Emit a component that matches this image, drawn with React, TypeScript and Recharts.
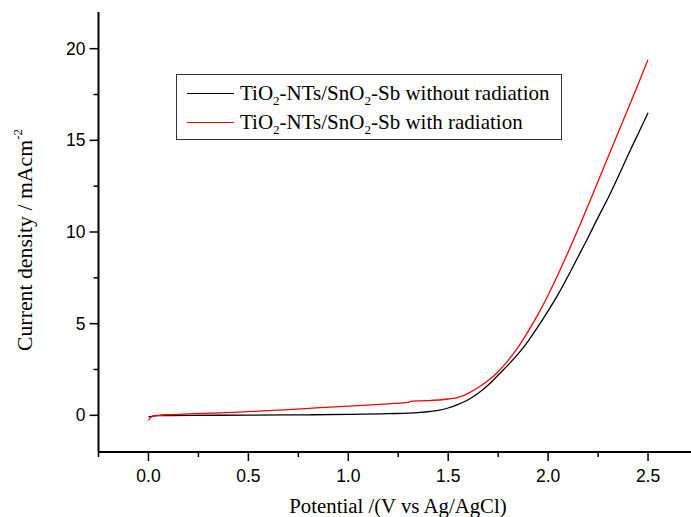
import { LineChart, Line, XAxis, YAxis, Label } from "recharts";

// potential (V vs Ag/AgCl) and current density (mA cm-2)
const potentialDark = [0, 0.05, 0.2, 0.5, 0.8, 1.0, 1.2, 1.35, 1.45, 1.5, 1.55, 1.6, 1.65, 1.7, 1.75, 1.8, 1.85, 1.9, 1.95, 2.0, 2.05, 2.1, 2.15, 2.2, 2.25, 2.3, 2.35, 2.4, 2.45, 2.5];
const currentDark = [-0.08, -0.02, 0, 0.01, 0.03, 0.05, 0.09, 0.15, 0.27, 0.4, 0.6, 0.85, 1.2, 1.65, 2.2, 2.75, 3.35, 4.05, 4.85, 5.7, 6.6, 7.6, 8.65, 9.7, 10.8, 11.85, 13.0, 14.2, 15.35, 16.5];

const potentialLight = [0, 0.02, 0.05, 0.1, 0.2, 0.36, 0.5, 0.7, 0.86, 1.0, 1.2, 1.3, 1.32, 1.4, 1.5, 1.55, 1.6, 1.65, 1.7, 1.75, 1.8, 1.85, 1.9, 1.95, 2.0, 2.05, 2.1, 2.15, 2.2, 2.25, 2.3, 2.35, 2.4, 2.45, 2.5];
const currentLight = [-0.28, -0.05, 0, 0.04, 0.08, 0.13, 0.2, 0.31, 0.42, 0.5, 0.63, 0.71, 0.78, 0.8, 0.89, 0.98, 1.2, 1.52, 1.9, 2.38, 3.0, 3.72, 4.58, 5.52, 6.55, 7.7, 8.9, 10.15, 11.45, 12.77, 14.09, 15.41, 16.72, 18.05, 19.4];

const xTicks = [-0.25, 0, 0.25, 0.5, 0.75, 1.0, 1.25, 1.5, 1.75, 2.0, 2.25, 2.5, 2.75];
const yTicks = [0, 2.5, 5, 7.5, 10, 12.5, 15, 17.5, 20];

const darkData = potentialDark.map((v, i) => ({ v, j: currentDark[i] }));
const lightData = potentialLight.map((v, i) => ({ v, j: currentLight[i] }));

const serif = "'Liberation Serif', 'Times New Roman', serif";
const sans = "'Liberation Sans', Arial, sans-serif";

const isMajor = (val: number, step: number) => Math.abs(val / step - Math.round(val / step)) < 1e-6;

const BottomTick = (props: any) => {
  const { x, y, payload } = props;
  const major = isMajor(payload.value, 0.5);
  return (
    <g>
      <line x1={x} y1={y} x2={x} y2={y + (major ? 9 : 5)} stroke="#000" strokeWidth={1.5} />
      {major && (
        <text x={x} y={y + 30} textAnchor="middle" fontFamily={sans} fontSize={17.5} fill="#000">
          {payload.value.toFixed(1)}
        </text>
      )}
    </g>
  );
};

const TopTick = (props: any) => {
  const { x, y } = props;
  return <line x1={x} y1={y} x2={x} y2={y + 3} stroke="#000" strokeWidth={1.2} />;
};

const LeftTick = (props: any) => {
  const { x, y, payload } = props;
  const major = isMajor(payload.value, 5);
  return (
    <g>
      <line x1={x - (major ? 9 : 5)} y1={y} x2={x} y2={y} stroke="#000" strokeWidth={1.5} />
      {major && (
        <text x={x - 13} y={y + 6} textAnchor="end" fontFamily={sans} fontSize={17.5} fill="#000">
          {payload.value}
        </text>
      )}
    </g>
  );
};

const XTitle = () => (
  <text x={398} y={513} textAnchor="middle" fontFamily={serif} fontSize={20.8} fill="#000">
    Potential /(V vs Ag/AgCl)
  </text>
);

const YTitle = () => (
  <text
    x={32}
    y={240}
    transform="rotate(-90, 32, 240)"
    textAnchor="middle"
    fontFamily={serif}
    fontSize={21.8}
    fill="#000"
  >
    Current density / mAcm
    <tspan dy={-10} fontSize={13}>-2</tspan>
  </text>
);

const Sub = ({ children }: { children: string }) => (
  <sub style={{ fontSize: 13, verticalAlign: "-5px", lineHeight: 0 }}>{children}</sub>
);

const legendRows = [
  { color: "#000000", label: "without radiation" },
  { color: "#ff0000", label: "with radiation" },
];

export default function App() {
  return (
    <div style={{ position: "absolute", left: 0, top: 0, width: 691, height: 517, overflow: "hidden", background: "#fff" }}>
      <LineChart width={720} height={517} margin={{ top: 12, right: 22, left: 0, bottom: 0 }}>
        <XAxis
          dataKey="v"
          type="number"
          domain={[-0.25, 2.75]}
          ticks={xTicks}
          interval={0}
          height={65}
          tickSize={0}
          tickMargin={0}
          tickLine={false}
          axisLine={{ stroke: "#000", strokeWidth: 2 }}
          tick={<BottomTick />}
          allowDataOverflow
        >
          <Label content={<XTitle />} />
        </XAxis>
        <XAxis
          xAxisId="top"
          orientation="top"
          dataKey="v"
          type="number"
          domain={[-0.25, 2.75]}
          ticks={xTicks}
          interval={0}
          height={0}
          tickSize={0}
          tickMargin={0}
          tickLine={false}
          axisLine={{ stroke: "#000", strokeWidth: 2 }}
          tick={<TopTick />}
          allowDataOverflow
        />
        <YAxis
          type="number"
          domain={[-2, 22]}
          ticks={yTicks}
          interval={0}
          width={98.5}
          tickSize={0}
          tickMargin={0}
          tickLine={false}
          axisLine={{ stroke: "#000", strokeWidth: 2 }}
          tick={<LeftTick />}
          allowDataOverflow
        >
          <Label content={<YTitle />} />
        </YAxis>
        <Line data={darkData} dataKey="j" type="monotone" stroke="#000000" strokeWidth={1.3} dot={false} isAnimationActive={false} />
        <Line data={lightData} dataKey="j" type="monotone" stroke="#ff0000" strokeWidth={1.3} dot={false} isAnimationActive={false} />
      </LineChart>
      <div
        style={{
          position: "absolute",
          left: 176,
          top: 74,
          width: 386,
          height: 66,
          border: "1px solid #333",
          background: "#fff",
          fontFamily: serif,
          fontSize: 21,
          color: "#000",
          boxSizing: "border-box",
        }}
      >
        {legendRows.map((r, i) => (
          <div key={i} style={{ position: "absolute", left: 10, top: 4 + i * 29, height: 28, display: "flex", alignItems: "center", whiteSpace: "nowrap" }}>
            <span style={{ display: "inline-block", width: 47, height: 0, borderTop: `1.3px solid ${r.color}`, marginRight: 6 }} />
            <span>
              TiO<Sub>2</Sub>-NTs/SnO<Sub>2</Sub>-Sb {r.label}
            </span>
          </div>
        ))}
      </div>
    </div>
  );
}
